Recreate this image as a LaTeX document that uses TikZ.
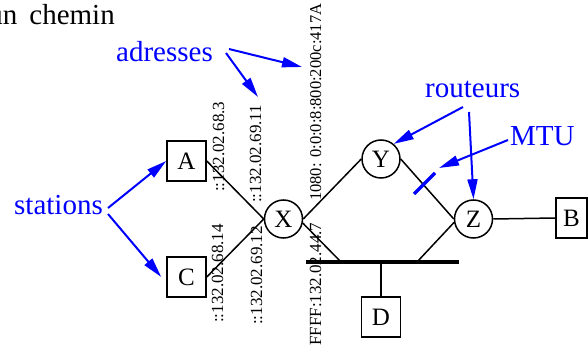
\documentclass[tikz,border=0pt]{standalone}
\usepackage{fontspec}
\setmainfont{Liberation Serif}
\usetikzlibrary{arrows.meta}
\begin{document}
\begin{tikzpicture}[x=1pt,y=-1pt,
  box/.style={draw, line width=1.5pt, minimum width=39pt, minimum height=40pt, inner sep=0pt, font=\fontsize{25}{26}\selectfont},
  rtr/.style={draw, circle, line width=1.5pt, minimum size=38pt, inner sep=0pt, font=\fontsize{25}{26}\selectfont},
  link/.style={line width=1.5pt},
  busline/.style={line width=4pt},
  lbl/.style={text=blue, inner sep=0pt, font=\fontsize{29}{30}\selectfont},
  title/.style={inner sep=0pt, font=\fontsize{29}{30}\selectfont},
  addr/.style={rotate=90, anchor=base west, inner sep=0pt, font=\fontsize{17}{18}\selectfont},
  ptr/.style={blue, line width=2pt, -{Triangle[length=20pt,width=10pt]}},
]
\useasboundingbox (0,0) rectangle (588,352);

% title
\node[title, anchor=base east] (ttl) at (115,25) {un\hspace{12pt}chemin};

% stations and routers
\node[box] (A) at (186.5,161) {A};
\node[box] (C) at (186.5,277) {C};
\node[box] (D) at (381,317) {D};
\node[box, minimum width=31pt] (B) at (571.5,218) {B};
\node[rtr] (X) at (283.5,219) {X};
\node[rtr] (Y) at (381,159) {Y};
\node[rtr] (Z) at (473.5,219) {Z};

% bus
\coordinate (busL) at (306,262);
\coordinate (busR) at (459,262);
\coordinate (bx) at (341,262);
\coordinate (bz) at (417,262);
\draw[busline] (busL) -- (busR);

% links
\draw[link] (A.east) -- (X.west);
\draw[link] (C.east) -- (X.west);
\draw[link] (X.east) -- (Y.west);
\draw[link] (Y.east) -- (Z.west);
\draw[link] (Z.east) -- (B.west);
\draw[link] (X.-12) -- (bx);
\draw[link] (Z.190) -- (bz);
\draw[link] (D.north) -- (D.north |- busL);

% addresses
\node[addr] (a1) at (224,192) {::132.02.68.3};
\node[addr] (a2) at (261,203) {::132.02.69.11};
\node[addr] (a3) at (223,323) {::132.02.68.14};
\node[addr] (a4) at (262,325) {::132.02.69.12};
\node[addr, font=\fontsize{16.5}{18}\selectfont] (a5) at (321,201) {1080: 0:0:0:8:800:200c:417A};
\node[addr] (a6) at (321,346) {FFFF:132.02.44.7};

% MTU mark
\coordinate (m1) at (414,194);
\coordinate (m2) at (435,173);
\draw[blue, line width=3.5pt] (m1) -- (m2);

% blue labels
\node[lbl, anchor=base east] (adr) at (213,62) {adresses};
\node[lbl, anchor=base east] (sta) at (103,215) {stations};
\node[lbl, anchor=base west] (rou) at (425,98) {routeurs};
\node[lbl, anchor=base west] (mtu) at (510,146) {MTU};

% arrow anchors
\coordinate (adrS1) at (229,49);
\coordinate (adrS2) at (226,53);
\coordinate (adrT1) at (302,67);
\coordinate (adrT2) at (258,97);
\coordinate (staS1) at (108,208);
\coordinate (staS2) at (108,214);
\coordinate (rouS1) at (463,107);
\coordinate (rouS2) at (469,112);
\coordinate (mtuS) at (508,140);
\coordinate (mtuT) at (439,168);

\draw[ptr] (adrS1) -- (adrT1);
\draw[ptr] (adrS2) -- (adrT2);
\draw[ptr] (staS1) -- (A.west);
\draw[ptr] (staS2) -- ([xshift=-5pt]C.west);
\draw[ptr] (rouS1) -- (Y.50);
\draw[ptr] (rouS2) -- (Z.north);
\draw[ptr] (mtuS) -- (mtuT);
\end{tikzpicture}
\end{document}
